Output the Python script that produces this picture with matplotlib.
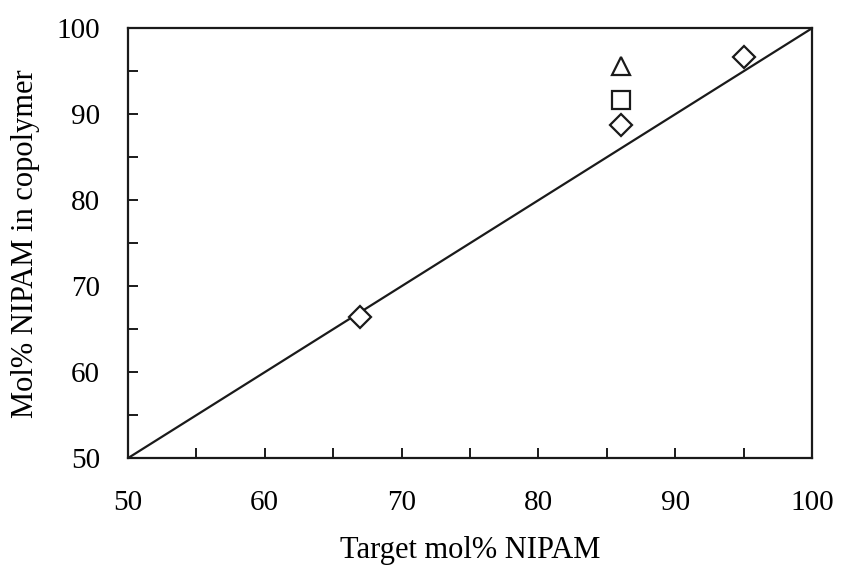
import matplotlib.pyplot as plt

plt.rcParams['font.family'] = ['Liberation Serif', 'DejaVu Serif']

# copolymer composition vs. feed composition
diamond_x = [67.0, 86.0, 95.0]
diamond_y = [66.4, 88.7, 96.7]
square_x = [86.0]
square_y = [91.7]
triangle_x = [86.0]
triangle_y = [95.6]
line_x = [50, 100]
line_y = [50, 100]

fig = plt.figure(figsize=(8.46, 5.75), dpi=100)
ax = fig.add_axes([0.151, 0.203, 0.809, 0.748])

ax.plot(line_x, line_y, color='#1a1a1a', lw=1.6)
ax.plot(diamond_x, diamond_y, ls='none', marker='D', ms=11.5, mfc='white',
        mec='#1a1a1a', mew=1.6)
ax.plot(square_x, square_y, ls='none', marker='s', ms=12.5, mfc='white',
        mec='#1a1a1a', mew=1.6)
ax.plot(triangle_x, triangle_y, ls='none', marker='^', ms=13.5, mfc='white',
        mec='#1a1a1a', mew=1.6)

ax.set_xlim(50, 100)
ax.set_ylim(50, 100)
ax.set_xticks(range(50, 101, 10))
ax.set_yticks(range(50, 101, 10))
ax.set_xticks(range(55, 100, 10), minor=True)
ax.set_yticks(range(55, 100, 10), minor=True)
ax.tick_params(which='both', direction='in', length=7, width=1.4,
               color='#1a1a1a', labelsize=21, right=False, top=False)
ax.tick_params(axis='x', pad=23)
ax.tick_params(axis='y', pad=20)
for s in ax.spines.values():
    s.set_linewidth(1.6)
    s.set_color('#1a1a1a')

ax.set_xlabel('Target mol% NIPAM', fontsize=22, labelpad=14)
ax.set_ylabel('Mol% NIPAM in copolymer', fontsize=22, labelpad=12)

fig.savefig('out.png', dpi=100)
